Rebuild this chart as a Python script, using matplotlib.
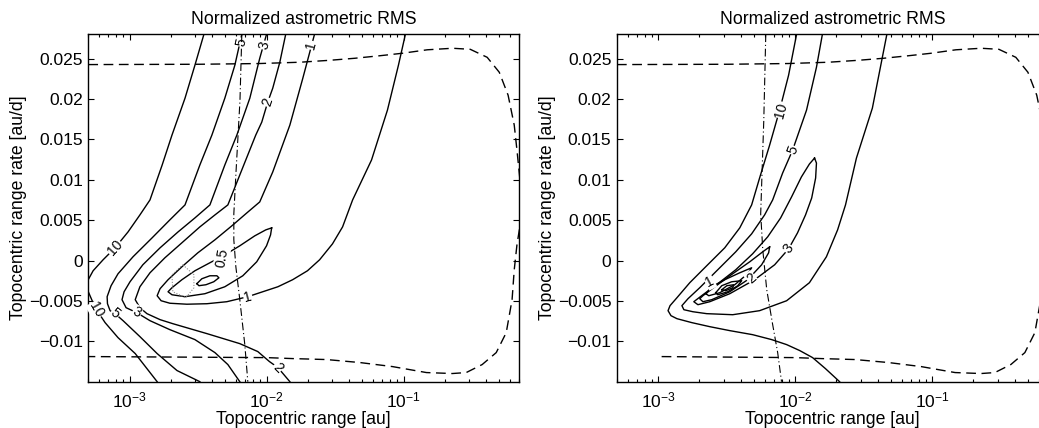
import math
import matplotlib
matplotlib.use("Agg")
import matplotlib.pyplot as plt
from matplotlib.ticker import FixedLocator, FuncFormatter, LogLocator, NullFormatter

plt.rcParams['font.family'] = ['Liberation Sans', 'DejaVu Sans']
plt.rcParams['mathtext.fontset'] = 'custom'
plt.rcParams['mathtext.rm'] = 'Liberation Sans'
plt.rcParams['mathtext.it'] = 'Liberation Sans:italic'
plt.rcParams['mathtext.bf'] = 'Liberation Sans:bold'

# ---------------- data (range [au], range rate [au/d]) ----------------
title = "Normalized astrometric RMS"
xlabel = "Topocentric range [au]"
ylabel = "Topocentric range rate [au/d]"
xlim = [5e-4, 0.7]
ylim = [-0.015, 0.028]
yticks = [-0.01, -0.005, 0, 0.005, 0.01, 0.015, 0.02, 0.025]
xticks = [1e-3, 1e-2, 1e-1]

# admissible region boundary (dashed): top branch, right turn, bottom branch
bnd_x = [5.0e-4, 3.26e-3, 8.9e-3, 1.75e-2, 2.89e-2, 4.4e-2, 6.68e-2, 9.8e-2, 0.149, 0.228,
         0.307, 0.408, 0.50, 0.58, 0.643, 0.673, 0.708, 0.732, 0.71, 0.673, 0.643, 0.62,
         0.562, 0.475, 0.375, 0.287, 0.227, 0.147, 0.083, 0.048, 0.0274, 0.0155, 0.010]
bnd_y = [0.02425, 0.02429, 0.02438, 0.02454, 0.02478, 0.02503, 0.02534, 0.02565, 0.02608, 0.02627,
         0.02614, 0.02515, 0.0233, 0.02046, 0.01676, 0.01367, 0.00997, 0.00688, 0.00441, 0.00194,
         -0.00115, -0.00485, -0.00893, -0.0114, -0.01288, -0.01387, -0.01399, -0.01387, -0.01313,
         -0.01263, -0.01226, -0.01214, -0.01202]
bnd_end_left_x = [5.0e-4]
bnd_end_right_x = [1.0e-3]
bnd_end_y = [-0.01189]

# dash-dot line
dd_left_x = [6.6e-3, 6.4e-3, 5.97e-3, 5.77e-3, 5.77e-3, 5.97e-3, 6.38e-3, 6.94e-3, 7.3e-3]
dd_left_y = [0.028, 0.01985, 0.01058, 0.00577, 0.00256, -0.00077, -0.00485, -0.01041, -0.015]
dd_right_x = [6.1e-3, 5.9e-3, 5.6e-3, 5.8e-3, 6.2e-3, 6.85e-3, 7.45e-3, 7.95e-3]
dd_right_y = [0.028, 0.01738, 0.00577, 0.00132, -0.00362, -0.00794, -0.0114, -0.015]

# ---- left panel contours ----
L10_x = [3.49e-3, 3.0e-3, 2.54e-3, 2.04e-3, 1.73e-3, 1.41e-3, 1.19e-3, 9.75e-4, 7.84e-4, 6.41e-4,
         5.42e-4, 4.9e-4, 5.0e-4, 5.61e-4, 6.63e-4, 8.24e-4, 1.10e-3, 1.59e-3]
L10_y = [0.028, 0.02417, 0.02009, 0.01552, 0.01182, 0.0075, 0.00564, 0.00354, 0.00157, 0.00009,
         -0.00127, -0.00263, -0.00387, -0.00584, -0.00769, -0.00955, -0.01152, -0.015]
L5_x = [6.6e-3, 5.87e-3, 4.96e-3, 3.99e-3, 3.26e-3, 2.54e-3, 1.97e-3, 1.46e-3, 1.06e-3, 8.24e-4,
        7.33e-4, 6.86e-4, 6.9e-4, 7.21e-4, 7.84e-4, 8.97e-4, 1.19e-3, 1.59e-3, 2.22e-3, 3.26e-3]
L5_y = [0.028, 0.02417, 0.02009, 0.01552, 0.01182, 0.00688, 0.00503, 0.0028, 0.00046, -0.00164,
        -0.00312, -0.00448, -0.00535, -0.00621, -0.00658, -0.00745, -0.00942, -0.01152, -0.01362, -0.015]
L3_x = [1.0e-2, 8.92e-3, 7.55e-3, 6.07e-3, 4.96e-3, 3.86e-3, 3.0e-3, 2.26e-3, 1.67e-3, 1.25e-3,
        1.008e-3, 9.12e-4, 8.81e-4, 9.43e-4, 1.13e-3, 1.41e-3, 1.97e-3, 3.0e-3, 4.2e-3, 5.22e-3, 6.38e-3]
L3_y = [0.028, 0.02503, 0.02009, 0.01552, 0.01182, 0.00688, 0.00527, 0.00354, 0.00157, -0.00053,
        -0.00263, -0.00387, -0.00485, -0.00584, -0.00646, -0.00745, -0.00856, -0.00979, -0.0114, -0.01288, -0.015]
L2_x = [1.38e-2, 1.25e-2, 1.11e-2, 1.02e-2, 9.23e-3, 8.34e-3, 6.82e-3, 5.22e-3, 4.2e-3, 3.26e-3,
        2.41e-3, 1.81e-3, 1.41e-3, 1.19e-3, 1.10e-3, 1.19e-3, 1.34e-3, 1.67e-3, 2.07e-3, 3.67e-3,
        6.38e-3, 8.63e-3, 1.05e-2, 1.21e-2, 1.48e-2]
L2_y = [0.028, 0.02454, 0.02133, 0.0196, 0.01713, 0.01552, 0.01182, 0.00688, 0.00564, 0.00416,
        0.00219, 0.00033, -0.00152, -0.00325, -0.00485, -0.00584, -0.00658, -0.00732, -0.00782, -0.00905,
        -0.01029, -0.01127, -0.01251, -0.01325, -0.015]
L1_x = [2.24e-2, 1.84e-2, 1.48e-2, 1.11e-2, 8.92e-3, 7.18e-3, 5.58e-3, 4.2e-3, 3.15e-3, 2.41e-3,
        1.91e-3, 1.67e-3, 1.59e-3, 1.70e-3, 1.97e-3, 2.62e-3, 3.67e-3, 5.13e-3, 7.3e-3, 8.92e-3,
        1.21e-2, 1.55e-2, 1.99e-2, 2.44e-2, 3.03e-2, 3.59e-2, 4.25e-2, 5.84e-2, 7.63e-2, 9.18e-2, 0.1032]
L1_y = [0.028, 0.02256, 0.01676, 0.01096, 0.00725, 0.00589, 0.00429, 0.00256, 0.00095, -0.00078,
        -0.00238, -0.00349, -0.00436, -0.00498, -0.00529, -0.00541, -0.00535, -0.0051, -0.00448, -0.00399,
        -0.00325, -0.00238, -0.00127, 0.00009, 0.00206, 0.00416, 0.0075, 0.01244, 0.01861, 0.02417, 0.028]
L05_x = [1.09e-2, 9.87e-3, 8.2e-3, 6.38e-3, 4.96e-3, 3.86e-3, 3.0e-3, 2.41e-3, 2.04e-3, 1.91e-3,
         2.04e-3, 2.54e-3, 3.55e-3, 4.96e-3, 6.71e-3, 8.48e-3, 1.0e-2, 1.07e-2, 1.09e-2]
L05_y = [0.00404, 0.00379, 0.00305, 0.00182, 0.0007, -0.00028, -0.00127, -0.00238, -0.00337, -0.00387,
         -0.00424, -0.00448, -0.00411, -0.00325, -0.00189, -0.00016, 0.00182, 0.00317, 0.00404]
Lmin_x = [3.10e-3, 3.37e-3, 3.86e-3, 4.34e-3, 4.49e-3, 4.12e-3, 3.61e-3, 3.21e-3, 3.10e-3]
Lmin_y = [-0.00287, -0.00226, -0.00189, -0.00189, -0.00214, -0.00263, -0.003, -0.00312, -0.00287]
Ldot_x = [2.45e-3, 2.95e-3, 2.95e-3, 2.58e-3, 2.07e-3, 2.04e-3, 2.45e-3]
Ldot_y = [-0.00053, -0.00177, -0.00337, -0.00461, -0.00387, -0.00177, -0.00053]

left_labels = ["5", "3", "2", "1", "10", "10", "5", "3", "2", "0.5", "1"]
left_lab_x = [6.6e-3, 9.7e-3, 1.02e-2, 2.13e-2, 7.84e-4, 5.7e-4, 7.84e-4, 1.13e-3, 1.21e-2, 4.72e-3, 7.3e-3]
left_lab_y = [0.0270, 0.02664, 0.0196, 0.02664, 0.00157, -0.00609, -0.00658, -0.00646, -0.01325, 0.00033, -0.00448]
left_lab_rot = [77, 77, 72, 75, 48, -60, -38, -28, -45, 80, 15]

# ---- right panel contours ----
R10_x = [1.024e-2, 8.95e-3, 7.70e-3, 6.51e-3, 5.50e-3, 4.81e-3, 3.94e-3, 3.06e-3, 2.26e-3, 1.70e-3,
         1.37e-3, 1.22e-3, 1.18e-3, 1.24e-3, 1.37e-3, 1.76e-3, 2.38e-3, 3.33e-3, 4.89e-3, 6.73e-3,
         8.66e-3, 1.08e-2, 1.34e-2, 1.66e-2, 2.11e-2]
R10_y = [0.028, 0.02293, 0.01861, 0.01429, 0.01022, 0.00688, 0.00404, 0.00157, -0.00065, -0.00275,
         -0.00461, -0.00559, -0.00621, -0.00683, -0.0072, -0.00769, -0.00819, -0.00868, -0.00918, -0.00979,
         -0.01041, -0.01115, -0.01202, -0.01337, -0.015]
R5_x = [1.58e-2, 1.43e-2, 1.21e-2, 9.58e-3, 8.10e-3, 6.85e-3, 5.98e-3, 4.81e-3, 3.68e-3, 2.72e-3,
        2.01e-3, 1.65e-3, 1.49e-3, 1.54e-3, 1.79e-3, 2.26e-3, 3.50e-3, 5.50e-3, 8.66e-3, 1.27e-2,
        1.69e-2, 2.04e-2, 2.33e-2, 2.80e-2, 3.66e-2, 4.67e-2]
R5_y = [0.028, 0.02392, 0.01861, 0.01367, 0.01083, 0.0075, 0.00564, 0.0033, 0.00107, -0.00115,
        -0.00337, -0.00473, -0.00559, -0.00609, -0.00634, -0.00658, -0.00671, -0.00621, -0.00498, -0.00275,
        0.00046, 0.00379, 0.00688, 0.01268, 0.01886, 0.028]
R3_x = [1.385e-2, 1.43e-2, 1.41e-2, 1.32e-2, 1.19e-2, 1.04e-2, 8.95e-3, 7.08e-3, 5.06e-3, 3.33e-3,
        2.38e-3, 1.95e-3, 1.82e-3, 2.12e-3, 2.72e-3, 3.68e-3, 4.89e-3, 6.30e-3, 7.83e-3, 9.41e-3,
        1.11e-2, 1.27e-2, 1.385e-2]
R3_y = [0.01268, 0.01206, 0.01021, 0.00774, 0.00564, 0.00342, 0.00144, -0.00053, -0.00238, -0.00411,
        -0.0051, -0.00547, -0.0051, -0.00424, -0.00288, -0.00115, 0.00083, 0.00293, 0.00527, 0.00787,
        0.01034, 0.01194, 0.01268]
R2_x = [6.51e-3, 6.40e-3, 5.69e-3, 4.50e-3, 3.33e-3, 2.46e-3, 2.12e-3, 2.01e-3, 2.12e-3, 2.59e-3,
        3.50e-3, 4.66e-3, 5.79e-3, 6.51e-3]
R2_y = [0.00169, 0.00095, -0.00053, -0.00238, -0.00387, -0.00485, -0.0051, -0.00473, -0.00436, -0.00325,
        -0.00164, -0.00016, 0.00107, 0.00169]
R1_x = [2.23e-3, 2.46e-3, 3.06e-3, 3.94e-3, 4.81e-3, 4.50e-3, 3.62e-3, 2.81e-3, 2.34e-3, 2.23e-3]
R1_y = [-0.00411, -0.00325, -0.00238, -0.00152, -0.0009, -0.00164, -0.003, -0.00399, -0.00436, -0.00411]
R05_x = [2.63e-3, 2.91e-3, 3.44e-3, 4.07e-3, 3.81e-3, 3.22e-3, 2.72e-3, 2.63e-3]
R05_y = [-0.00399, -0.00312, -0.00263, -0.0025, -0.00312, -0.00387, -0.00424, -0.00399]
Rmin_x = [2.91e-3, 3.17e-3, 3.56e-3, 3.50e-3, 3.11e-3, 2.91e-3]
Rmin_y = [-0.00362, -0.00312, -0.003, -0.00337, -0.00374, -0.00362]

right_labels = ["10", "5", "3", "2", "1"]
right_lab_x = [7.96e-3, 9.58e-3, 8.95e-3, 4.81e-3, 2.38e-3]
right_lab_y = [0.01861, 0.01367, 0.00144, -0.00226, -0.00263]
right_lab_rot = [75, 69, 54, 40, 28]

# ---------------- figure ----------------
fig = plt.figure(figsize=(10.39, 4.28), dpi=100)
ax1 = fig.add_axes([0.0850, 0.1082, 0.4148, 0.8117])
ax2 = fig.add_axes([0.5938, 0.1082, 0.4148, 0.8117])

lw = 1.0
dash = (0, (7, 4))
dashdot = (0, (7, 2.5, 1, 2.5))


def xfmt(v, pos):
    e = int(round(math.log10(v)))
    return r'$\mathregular{10^{%d}}$' % e


def yfmt(v, pos):
    if abs(v) < 1e-12:
        return "0"
    s = ("%.3f" % v).rstrip('0')
    return s.replace('-', '\u2212')


def style(ax):
    ax.set_xscale('log')
    ax.set_xlim(xlim)
    ax.set_ylim(ylim)
    ax.xaxis.set_major_locator(FixedLocator(xticks))
    ax.xaxis.set_minor_locator(LogLocator(base=10, subs=range(2, 10)))
    ax.xaxis.set_major_formatter(FuncFormatter(xfmt))
    ax.xaxis.set_minor_formatter(NullFormatter())
    ax.yaxis.set_major_locator(FixedLocator(yticks))
    ax.yaxis.set_major_formatter(FuncFormatter(yfmt))
    ax.tick_params(which='both', direction='in', top=True, right=True, labelsize=12.5, width=0.8)
    ax.tick_params(which='major', length=4.5)
    ax.tick_params(which='minor', length=2.5)
    ax.tick_params(axis='x', which='major', pad=6)
    ax.tick_params(axis='y', which='major', pad=4)
    for sp in ax.spines.values():
        sp.set_linewidth(1.0)
    ax.set_title(title, fontsize=12.7, pad=7.5)
    ax.set_xlabel(xlabel, fontsize=12.7, labelpad=1)
    ax.set_ylabel(ylabel, fontsize=12.7, labelpad=1.5)


def label(ax, xs, ys, txt, rots):
    for x, y, t, r in zip(xs, ys, txt, rots):
        ax.text(x, y, t, rotation=r, rotation_mode='anchor', ha='center', va='center',
                fontsize=10, zorder=3,
                bbox=dict(boxstyle='square,pad=0.05', fc='white', ec='none'))


# left panel
for xs, ys in [(L10_x, L10_y), (L5_x, L5_y), (L3_x, L3_y), (L2_x, L2_y), (L1_x, L1_y),
               (L05_x, L05_y), (Lmin_x, Lmin_y)]:
    ax1.plot(xs, ys, color='black', lw=lw, zorder=2)
ax1.plot(Ldot_x, Ldot_y, color='0.55', lw=0.8, ls=(0, (1, 1.5)), zorder=2)
ax1.plot(bnd_x + bnd_end_left_x, bnd_y + bnd_end_y, color='black', lw=lw, ls=dash, zorder=4)
ax1.plot(dd_left_x, dd_left_y, color='black', lw=0.8, ls=dashdot, zorder=4)
label(ax1, left_lab_x, left_lab_y, left_labels, left_lab_rot)
style(ax1)

# right panel
for xs, ys in [(R10_x, R10_y), (R5_x, R5_y), (R3_x, R3_y), (R2_x, R2_y), (R1_x, R1_y),
               (R05_x, R05_y), (Rmin_x, Rmin_y)]:
    ax2.plot(xs, ys, color='black', lw=lw, zorder=2)
ax2.plot(bnd_x + bnd_end_right_x, bnd_y + bnd_end_y, color='black', lw=lw, ls=dash, zorder=4)
ax2.plot(dd_right_x, dd_right_y, color='black', lw=0.8, ls=dashdot, zorder=4)
label(ax2, right_lab_x, right_lab_y, right_labels, right_lab_rot)
style(ax2)

fig.savefig("out.png", dpi=100)
